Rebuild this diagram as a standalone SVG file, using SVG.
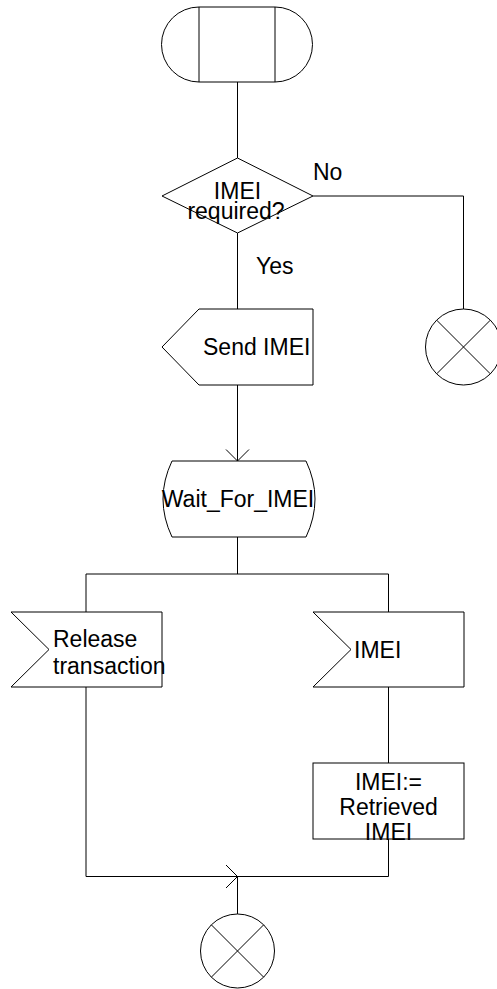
<svg xmlns="http://www.w3.org/2000/svg" width="497" height="989" viewBox="0 0 497 989">
<style>
.s{fill:#fff;stroke:#000;stroke-width:1}
.l{fill:none;stroke:#000;stroke-width:1}
text{font-family:"Liberation Sans",Arial,sans-serif;font-size:23px;fill:#000}
.m{text-anchor:middle}
</style>
<rect width="497" height="989" fill="#fff"/>
<g id="connectors">
<path class="l" d="M237.5,82 V158"/>
<path class="l" d="M237.5,233 V309"/>
<path class="l" d="M313,196 H463.5 V309"/>
<path class="l" d="M237.5,385 V461"/>
<path class="l" d="M226,449.5 L237.5,461 L249,449.5"/>
<path class="l" d="M237.5,537 V574 M86,574 H388.5 M86,574 V612 M388.5,574 V612"/>
<path class="l" d="M388.5,687 V763"/>
<path class="l" d="M388.5,839 V876.5 H86 V687"/>
<path class="l" d="M226,865 L237.5,876.5 L226,888"/>
<path class="l" d="M237.5,876.5 V914"/>
<text x="256" y="274">Yes</text>
<text x="313" y="180">No</text>
</g>
<g id="start">
<path class="s" d="M199,7 H275 A37.5,37.5 0 0 1 275,82 H199 A37.5,37.5 0 0 1 199,7 Z"/>
<path class="l" d="M199,7 V82 M275,7 V82"/>
</g>
<g id="decision">
<polygon class="s" points="237.5,158 313,196 237.5,233 162,196"/>
<text class="m" x="237.5" y="199">IMEI</text>
<text class="m" x="236" y="219">required?</text>
</g>
<g id="stop1">
<circle class="s" cx="463.5" cy="347" r="38"/>
<path class="l" d="M436.6,320.1 L490.4,373.9 M490.4,320.1 L436.6,373.9"/>
</g>
<g id="send">
<polygon class="s" points="199,309 313,309 313,385 199,385 162,347"/>
<text x="203" y="355">Send IMEI</text>
</g>
<g id="wait">
<path class="s" d="M172,461 H306 Q324,499 306,537 H172 Q154,499 172,461 Z"/>
<text class="m" x="238" y="507">Wait_For_IMEI</text>
</g>
<g id="release">
<polygon class="s" points="11,612 162,612 162,687 11,687 49,649.5"/>
<text x="53" y="647">Release</text>
<text x="53" y="674">transaction</text>
</g>
<g id="imei">
<polygon class="s" points="313,612 464,612 464,687 313,687 351,649.5"/>
<text x="354" y="658">IMEI</text>
</g>
<g id="task">
<rect class="s" x="313" y="763" width="151" height="76"/>
<text class="m" x="388.5" y="790">IMEI:=</text>
<text class="m" x="388.5" y="815">Retrieved</text>
<text class="m" x="388.5" y="840">IMEI</text>
</g>
<g id="stop2">
<circle class="s" cx="237.5" cy="951" r="37"/>
<path class="l" d="M211.3,924.8 L263.7,977.2 M263.7,924.8 L211.3,977.2"/>
</g>
</svg>
